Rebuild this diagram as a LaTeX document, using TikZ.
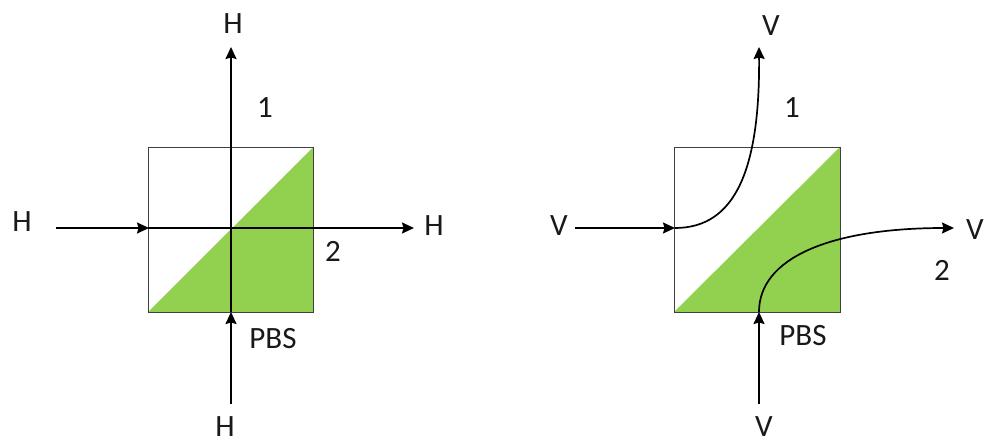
\documentclass[tikz,border=0pt]{standalone}
\usepackage{fontspec}
\setmainfont{Carlito}
\usetikzlibrary{arrows.meta}
\definecolor{pbsgreen}{RGB}{146,208,80}
\tikzset{
 lbl/.style={inner sep=0pt,font=\fontsize{31}{33}\selectfont,text=black!90},
 ray/.style={draw=black,line width=1.7pt,-{Stealth[length=12pt,width=11pt,inset=1.5pt]}},
 cube/.style={draw=black!75,line width=1pt},
}
\begin{document}
\begin{tikzpicture}[x=1pt,y=-1pt]
\useasboundingbox (0,0) rectangle (986,442);
% left
\coordinate (a1) at (148,147); \coordinate (a2) at (313.5,147); \coordinate (a3) at (313.5,312); \coordinate (a4) at (148,312);
\fill[pbsgreen] (a2)--(a3)--(a4)--cycle;
\draw[cube] (a1) rectangle (a3);
\node[lbl] (h1) at (22,222) {H};
\node[lbl] (h2) at (434,226) {H};
\node[lbl] (h3) at (233,24) {H};
\node[lbl] (h4) at (225,427) {H};
\node[lbl] at (265,108) {1};
\node[lbl] at (333,251) {2};
\node[lbl] at (273,339) {PBS};
\coordinate (s1) at (56,228); \coordinate (e1) at (149,228); \coordinate (s2) at (148,228); \coordinate (e2) at (414,228);
\coordinate (s3) at (231,404); \coordinate (e3) at (231,312); \coordinate (e4) at (231,47);
\draw[ray] (s1)--(e1);
\draw[ray] (s2)--(e2);
\draw[ray] (s3)--(e3);
\draw[ray] (e3)--(e4);
% right
\coordinate (b1) at (674,147); \coordinate (b2) at (840,147); \coordinate (b3) at (840,312); \coordinate (b4) at (674,312);
\fill[pbsgreen] (b2)--(b3)--(b4)--cycle;
\draw[cube] (b1) rectangle (b3);
\node[lbl] (v1) at (559,226) {V};
\node[lbl] (v2) at (975,230) {V};
\node[lbl] (v3) at (771,26) {V};
\node[lbl] (v4) at (764,427) {V};
\node[lbl] at (792,108) {1};
\node[lbl] at (942,270) {2};
\node[lbl] at (803,336) {PBS};
\coordinate (t1) at (575,228); \coordinate (f1) at (675,228); \coordinate (f2) at (759,47);
\coordinate (t3) at (759,404); \coordinate (f3) at (759,312); \coordinate (f4) at (954,228);
\draw[ray] (t1)--(f1);
\draw[ray] (f1) .. controls (735,228) and (760,170) .. (f2);
\draw[ray] (t3)--(f3);
\draw[ray] (f3) .. controls (759,258) and (830,228) .. (f4);
\end{tikzpicture}
\end{document}
